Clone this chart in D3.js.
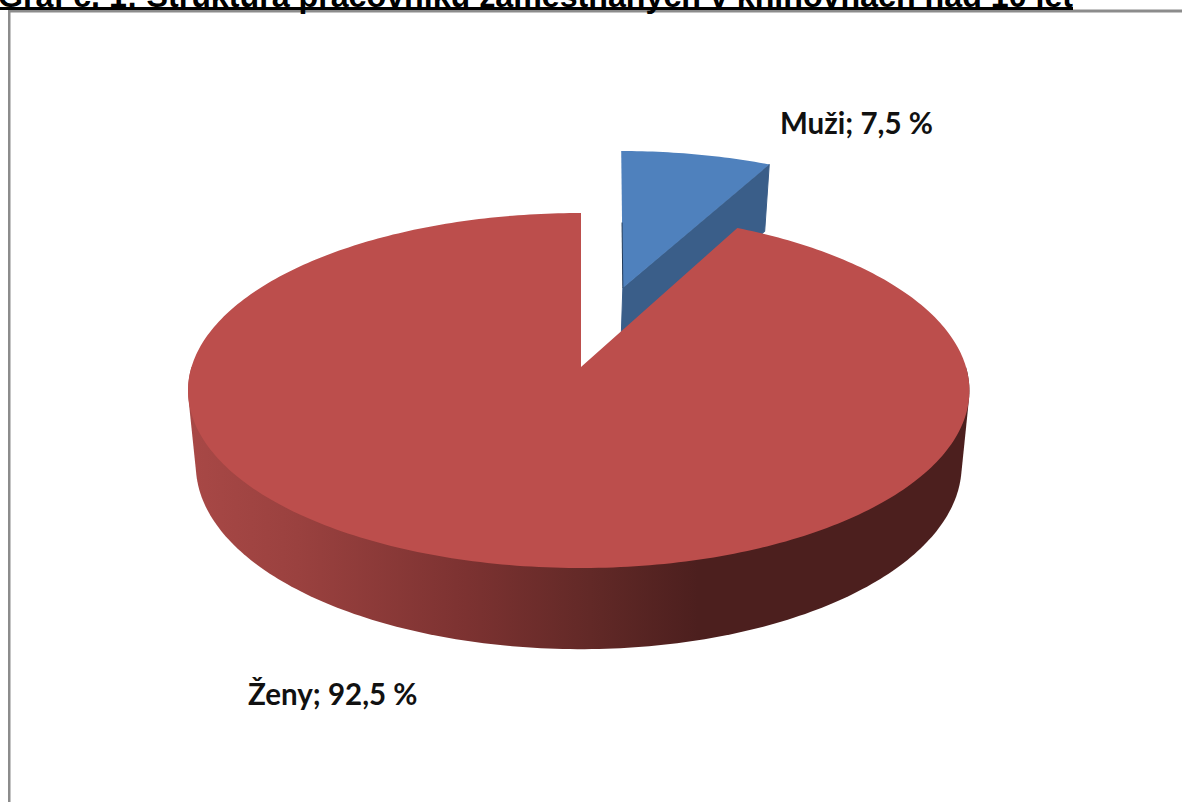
<!DOCTYPE html>
<html>
<head>
<meta charset="utf-8">
<script src="https://cdn.jsdelivr.net/npm/d3@7"></script>
<style>
  html, body { margin: 0; padding: 0; background: #fff; overflow: hidden; }
</style>
</head>
<body>
<div id="container"></div>
<script>
// data
let sliceNames = ["Muži", "Ženy"];
let sliceValues = [7.5, 92.5];
let sliceTexts = ["Muži; 7,5 %", "Ženy; 92,5 %"];
let chartTitle = "Graf č. 1: Struktura pracovníků zaměstnaných v knihovnách nad 10 let";

let w = 1182;
let h = 802;

// fake 3D: disc is a unit circle, lying flat, seen in perspective
let apexX = 581;
let apexY = 367;
let radiusRight = 385;
let radiusLeft = 389.5; // the picture is a bit wider on the left
let radiusY = 174.4;
let thickness = 76;
let tiltPersp = 0.1325;
let depthPersp = 0.02;
let explode = 0.495; // only the blue slice is pulled out
let blueSkew = 0.022; // straightens the left edge of the blue slice

function project(angle, r, z, off) {
  let u = r * Math.sin(angle) + off * Math.sin(off ? midAngle : 0);
  let v = r * Math.cos(angle) + off * Math.cos(off ? midAngle : 0);
  let d = 1 + tiltPersp * v + depthPersp * z;
  let radiusX = u < 0 ? radiusLeft : radiusRight;
  return [apexX + radiusX * u / d, apexY + (-radiusY * v + thickness * z) / d];
}

let viz = d3.select("#container")
  .append("svg")
    .attr("width", w)
    .attr("height", h)
    .style("display", "block")
    .style("background-color", "white");

let pie = d3.pie().sort(null).value(d => d);
let arcs = pie(sliceValues);
let midAngle = (arcs[0].startAngle + arcs[0].endAngle) / 2;

let line = d3.line();

function rimPoints(a0, a1, z, off) {
  let n = Math.ceil((a1 - a0) * 60);
  return d3.range(n + 1).map(i => project(a0 + (a1 - a0) * i / n, 1, z, off));
}

// gradient on the side of the red disc
let sideColor = d3.scaleLinear()
  .domain([0, 0.14, 0.36, 0.52, 0.66, 1])
  .range(["#a84846", "#9a413f", "#7c3231", "#622927", "#4c1f1e", "#4c1f1e"]);
let grad = viz.append("defs").append("linearGradient")
  .attr("id", "redSide")
  .attr("gradientUnits", "userSpaceOnUse")
  .attr("x1", 190).attr("x2", 960).attr("y1", 0).attr("y2", 0);
grad.selectAll("stop").data(sideColor.domain()).enter().append("stop")
  .attr("offset", d => d)
  .attr("stop-color", d => sideColor(d));

// blue slice first, red one sits in front of it
let blue = arcs[0];
let blueTopRim = rimPoints(blue.startAngle, blue.endAngle, 0, explode);
let blueCorner = project(blue.endAngle, 1, 0, explode);
let blueCornerLow = project(blue.endAngle, 1, 1, explode);
let blueApex = project(0, 0, 0, explode);
let blueApexLow = project(0, 0, 1, explode);

let blueGroup = viz.append("g")
  .attr("transform", "matrix(1,0," + (-blueSkew) + ",1," + (blueSkew * blueApex[1]) + ",0)");

blueGroup.append("path")
  .attr("d", line([blueCorner, blueCornerLow, blueApexLow, blueApex]) + "Z")
  .attr("fill", "#3a5e89")
  .attr("stroke", "#3a5e89")
  .attr("stroke-width", 1)
  .attr("stroke-linejoin", "round");

blueGroup.append("path")
  .attr("d", line([blueApex].concat(blueTopRim)) + "Z")
  .attr("fill", "#4f81bd");

// thin dark edge on the left side of the blue slice
blueGroup.append("path")
  .attr("d", line([project(0, 0.45, 0, explode), blueApex]))
  .attr("stroke", "#1f3a5a")
  .attr("stroke-width", 1)
  .attr("fill", "none");

// red slice
let red = arcs[1];
let sideAngles = [Math.PI / 2, Math.PI * 3 / 2];
let sideHull = d3.polygonHull(
  rimPoints(sideAngles[0], sideAngles[1], 0, 0)
    .concat(rimPoints(sideAngles[0], sideAngles[1], 1, 0))
);
viz.append("path")
  .attr("d", line(sideHull) + "Z")
  .attr("fill", "url(#redSide)");

viz.append("path")
  .attr("d", line([project(0, 0, 0, 0)].concat(rimPoints(red.startAngle, red.endAngle, 0, 0))) + "Z")
  .attr("fill", "#bc4e4c");

// labels
let labelPos = [[780, 134], [248, 705]];
viz.selectAll(".label").data(sliceTexts).enter()
  .append("text")
    .classed("label", true)
    .attr("x", (d, i) => labelPos[i][0])
    .attr("y", (d, i) => labelPos[i][1])
    .attr("font-family", "Lato, sans-serif")
    .attr("font-weight", "bold")
    .attr("font-size", 29.5)
    .attr("fill", "#111")
    .text(d => d);

// frame of the chart area
viz.append("line").attr("x1", 8).attr("x2", w).attr("y1", 11).attr("y2", 11)
  .attr("stroke", "#8c8c8c").attr("stroke-width", 3);
viz.append("line").attr("x1", 9.25).attr("x2", 9.25).attr("y1", 10).attr("y2", h)
  .attr("stroke", "#8c8c8c").attr("stroke-width", 2.5);

// title is cut by the top of the picture
viz.append("text")
  .attr("x", -2)
  .attr("y", 7)
  .attr("font-family", "'Liberation Sans', Arial, sans-serif")
  .attr("font-weight", "bold")
  .attr("font-size", 32.2)
  .attr("fill", "black")
  .text(chartTitle);
viz.append("line").attr("x1", 0).attr("x2", 1073).attr("y1", 8.5).attr("y2", 8.5)
  .attr("stroke", "black").attr("stroke-width", 3);
</script>
</body>
</html>
